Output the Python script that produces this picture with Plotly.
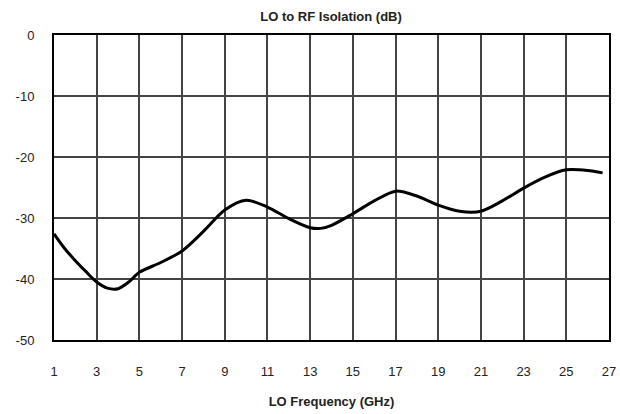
import plotly.graph_objects as go

freq_ghz = [1, 1.5, 2, 2.5, 3, 3.5, 4, 4.5, 5, 6, 7, 8, 9, 10, 11, 12, 13, 13.5, 14,
            15, 16, 17, 18, 19, 20, 21, 22, 23, 24, 25, 26, 26.7]
isolation_db = [-32.6, -35.0, -37.0, -38.8, -40.5, -41.5, -41.6, -40.5, -38.9, -37.3,
                -35.4, -32.2, -28.7, -27.1, -28.2, -30.1, -31.6, -31.7, -31.2,
                -29.3, -27.2, -25.6, -26.4, -27.9, -28.9, -28.9, -27.2, -25.1, -23.3,
                -22.1, -22.2, -22.6]
x_ticks = list(range(1, 28, 2))
y_ticks = [0, -10, -20, -30, -40, -50]

fig = go.Figure()
fig.add_trace(go.Scatter(x=freq_ghz, y=isolation_db, mode="lines",
                         line=dict(color="black", width=3, shape="spline", smoothing=0.8),
                         showlegend=False))

font_family = "Liberation Sans, Arial, sans-serif"
fig.update_layout(
    width=620, height=414,
    margin=dict(l=54, r=11, t=35, b=74),
    paper_bgcolor="white", plot_bgcolor="white",
    font=dict(family=font_family, size=13, color="#222"),
    title=dict(text="<b>LO to RF Isolation (dB)</b>", x=0.534, xanchor="center",
               y=0.96, yanchor="middle", font=dict(size=13, color="#222", family=font_family)),
    xaxis=dict(range=[1, 27], tickvals=x_ticks, ticktext=[str(v) for v in x_ticks],
               showgrid=True, gridcolor="#444", gridwidth=2, automargin=False,
               showline=True, linecolor="black", linewidth=2, mirror=True,
               zeroline=False, ticks="", ticklabelstandoff=18,
               title=dict(text="<b>LO Frequency (GHz)</b>", standoff=19,
                          font=dict(size=13, color="#222"))),
    yaxis=dict(range=[-50, 0], tickvals=y_ticks, ticktext=[str(v) for v in y_ticks],
               showgrid=True, gridcolor="#444", gridwidth=2, automargin=False,
               showline=True, linecolor="black", linewidth=2, mirror=True,
               zeroline=False, ticks="", ticklabelstandoff=15),
)

fig.write_html("out.html")
